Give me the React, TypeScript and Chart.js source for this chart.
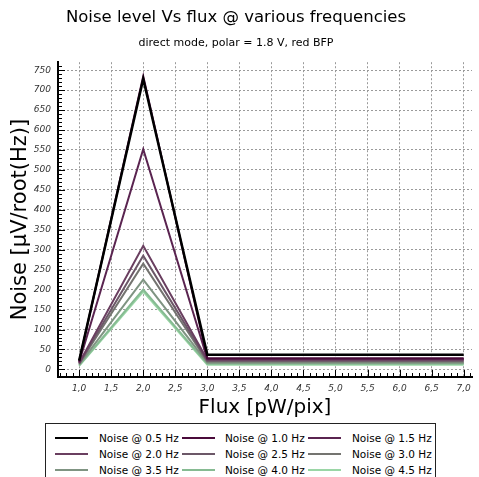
import React, { useEffect, useRef } from "react";
import { Chart, registerables } from "chart.js";

Chart.register(...registerables);

const fluxValues = [1, 2, 3, 4, 5, 6, 7];
const seriesLabels = [
  "Noise @ 0.5 Hz",
  "Noise @ 1.0 Hz",
  "Noise @ 1.5 Hz",
  "Noise @ 2.0 Hz",
  "Noise @ 2.5 Hz",
  "Noise @ 3.0 Hz",
  "Noise @ 3.5 Hz",
  "Noise @ 4.0 Hz",
  "Noise @ 4.5 Hz",
];
const noise05 = [22, 728, 37, 37, 37, 37, 37];
const noise10 = [20, 735, 28, 28, 28, 28, 28];
const noise15 = [18, 552, 26, 26, 26, 26, 26];
const noise20 = [16, 310, 24, 24, 24, 24, 24];
const noise25 = [15, 285, 22, 22, 22, 22, 22];
const noise30 = [14, 265, 20, 20, 20, 20, 20];
const noise35 = [12, 225, 17, 17, 17, 17, 17];
const noise40 = [10, 200, 14, 14, 14, 14, 14];
const noise45 = [9, 195, 12, 12, 12, 12, 12];
const seriesValues = [noise05, noise10, noise15, noise20, noise25, noise30, noise35, noise40, noise45];
const seriesColors = [
  "#000000",
  "#4a0a3a",
  "#5a2450",
  "#6a3f60",
  "#6c5868",
  "#747470",
  "#7f9482",
  "#86bb92",
  "#9ad6a6",
];
const yTickValues = [0, 50, 100, 150, 200, 250, 300, 350, 400, 450, 500, 550, 600, 650, 700, 750];
const xTickValues = [1, 1.5, 2, 2.5, 3, 3.5, 4, 4.5, 5, 5.5, 6, 6.5, 7];

const FONT = "'DejaVu Sans', sans-serif";

const tickMarksPlugin = {
  id: "tickMarks",
  afterDatasetsDraw(chart: any) {
    const ctx = chart.ctx;
    const xs = chart.scales.x;
    const ys = chart.scales.y;
    const area = chart.chartArea;
    ctx.save();
    ctx.strokeStyle = "#000";
    ctx.lineWidth = 1;
    ctx.beginPath();
    for (let v = 0; v <= 760; v += 10) {
      const y = Math.round(ys.getPixelForValue(v)) + 0.5;
      const len = v % 50 === 0 ? 7 : 4;
      ctx.moveTo(area.left, y);
      ctx.lineTo(area.left + len, y);
    }
    for (let i = 7; i <= 71; i++) {
      const v = i / 10;
      const x = Math.round(xs.getPixelForValue(v)) + 0.5;
      const len = i % 5 === 0 ? 7 : 4;
      ctx.moveTo(x, area.bottom);
      ctx.lineTo(x, area.bottom - len);
    }
    ctx.stroke();
    ctx.restore();
  },
};

export default function App() {
  const canvasRef = useRef<HTMLCanvasElement | null>(null);

  useEffect(() => {
    const canvas = canvasRef.current;
    if (!canvas) return;
    const chart = new Chart(canvas, {
      type: "line",
      data: {
        datasets: seriesLabels.map((label, i) => ({
          label,
          data: fluxValues.map((x, j) => ({ x, y: seriesValues[i][j] })),
          borderColor: seriesColors[i],
          backgroundColor: seriesColors[i],
          borderWidth: i === 0 ? 2.5 : 2,
          pointRadius: 0,
          tension: 0,
        })),
      },
      options: {
        responsive: false,
        animation: false,
        layout: { padding: { left: 0, right: 7, top: 0, bottom: 57 } },
        plugins: {
          legend: { display: false },
          tooltip: { enabled: false },
          title: {
            display: true,
            text: "Noise level Vs flux @ various frequencies",
            color: "#000",
            font: { family: FONT, size: 16.5, weight: "normal" },
            padding: { top: 8, bottom: 4 },
          },
          subtitle: {
            display: true,
            text: "direct mode, polar = 1.8 V, red BFP",
            color: "#000",
            font: { family: FONT, size: 11, weight: "normal" },
            padding: { top: 5, bottom: 12.2 },
          },
        },
        scales: {
          x: {
            type: "linear",
            min: 0.67,
            max: 7.13,
            afterBuildTicks: (scale: any) => {
              scale.ticks = xTickValues.map((v) => ({ value: v }));
            },
            afterFit: (scale: any) => {
              scale.height = 43;
            },
            ticks: {
              autoSkip: false,
              maxRotation: 0,
              padding: 6,
              color: "#333",
              font: { family: FONT, size: 9, style: "italic" },
              callback: (v: any) => Number(v).toFixed(1).replace(".", ","),
            },
            grid: { color: "#9a9a9a", lineWidth: 1, drawTicks: false },
            border: { color: "#000", width: 2, dash: [2, 2] },
            title: {
              display: true,
              text: "Flux [pW/pix]",
              color: "#000",
              font: { family: FONT, size: 20, weight: "normal" },
              padding: { top: 0, bottom: 0 },
            },
          },
          y: {
            type: "linear",
            min: -19,
            max: 770,
            afterBuildTicks: (scale: any) => {
              scale.ticks = yTickValues.map((v) => ({ value: v }));
            },
            afterFit: (scale: any) => {
              scale.width = 58;
            },
            ticks: {
              autoSkip: false,
              padding: 7,
              color: "#333",
              font: { family: FONT, size: 9, style: "italic" },
            },
            grid: { color: "#9a9a9a", lineWidth: 1, drawTicks: false },
            border: { color: "#000", width: 2, dash: [2, 2] },
            title: {
              display: true,
              text: "Noise [µV/root(Hz)]",
              color: "#000",
              font: { family: FONT, size: 21, weight: "normal" },
              padding: { top: 8, bottom: 0 },
            },
          },
        },
      },
      plugins: [tickMarksPlugin],
    } as any);
    return () => chart.destroy();
  }, []);

  const colLine = [55, 182, 308];
  const colText = [99, 225, 352];
  const rowY = [438, 454, 470];

  return (
    <div style={{ position: "fixed", left: 0, top: 0, width: 479, height: 477, overflow: "hidden", background: "#fff" }}>
      <canvas ref={canvasRef} width={479} height={477} style={{ position: "absolute", left: 0, top: 0, width: 479, height: 477 }} />
      <div
        style={{
          position: "absolute",
          left: 45,
          top: 423,
          width: 389,
          height: 70,
          border: "1px solid #222",
          background: "#fff",
        }}
      />
      {seriesLabels.map((label, i) => {
        const r = Math.floor(i / 3);
        const c = i % 3;
        return (
          <React.Fragment key={label}>
            <div
              style={{
                position: "absolute",
                left: colLine[c],
                top: rowY[r] - 1,
                width: 33,
                height: 2,
                background: seriesColors[i],
              }}
            />
            <div
              style={{
                position: "absolute",
                left: colText[c],
                top: rowY[r] - 8,
                height: 16,
                lineHeight: "16px",
                fontFamily: FONT,
                fontSize: 10.5,
                color: "#000",
                whiteSpace: "nowrap",
              }}
            >
              {label}
            </div>
          </React.Fragment>
        );
      })}
    </div>
  );
}
